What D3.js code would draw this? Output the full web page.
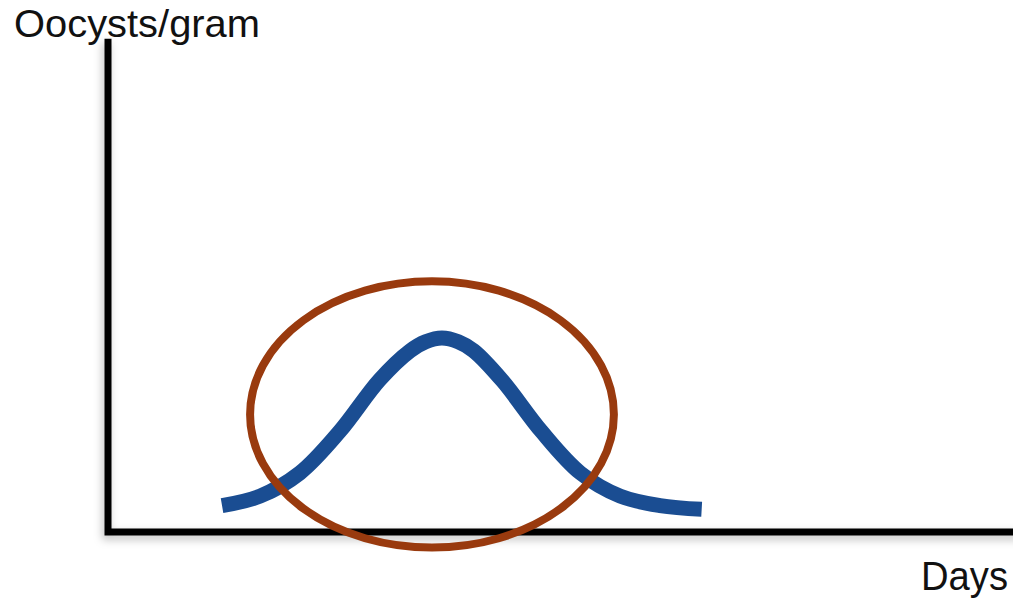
<!DOCTYPE html>
<html>
<head>
<meta charset="utf-8">
<script src="https://cdn.jsdelivr.net/npm/d3@7"></script>
<style>
  body { margin: 0; background: #fff; }
  svg { display: block; }
  .label { font-family: "Liberation Sans", Arial, sans-serif; fill: #111; }
</style>
</head>
<body>
<svg id="chart"></svg>
<script>
  // curve (arbitrary units, 0..100 on both axes)
  const days = [12.6, 16.8, 21.2, 25.6, 30.0, 33.4, 35.1, 36.9, 38.7, 40.4, 43.6, 47.9, 52.2, 56.6, 61.0, 65.6];
  const oocysts = [5.6, 7.6, 12.5, 21.3, 32.2, 38.4, 40.3, 41.1, 40.3, 38.4, 32.0, 21.3, 12.5, 7.6, 5.6, 4.8];
  // highlight ellipse: centre and radii in data units
  const ringCentre = [35.8, 24.9];
  const ringRadii = [20.1, 28.2];

  const width = 1013;
  const height = 598;

  const svg = d3.select('#chart')
    .attr('width', width)
    .attr('height', height);

  const defs = svg.append('defs');
  defs.append('filter')
    .attr('id', 'shadow')
    .attr('x', '-10%').attr('y', '-10%')
    .attr('width', '120%').attr('height', '120%')
    .append('feDropShadow')
    .attr('dx', -2).attr('dy', 4)
    .attr('stdDeviation', 4)
    .attr('flood-color', '#000')
    .attr('flood-opacity', 0.25);

  const x = d3.scaleLinear().domain([0, 100]).range([108, 1013]);
  const y = d3.scaleLinear().domain([0, 100]).range([532, 60]);

  // axes
  const axes = svg.append('g').attr('filter', 'url(#shadow)');
  axes.append('path')
    .attr('d', `M${x(0)},${y(104.5)}V${y(0)}H${x(100) + 10}`)
    .attr('fill', 'none')
    .attr('stroke', '#000')
    .attr('stroke-width', 7);

  const line = d3.line()
    .x((d, i) => x(days[i]))
    .y((d) => y(d))
    .curve(d3.curveCatmullRom);

  svg.append('path')
    .attr('d', line(oocysts))
    .attr('fill', 'none')
    .attr('stroke', '#1a4d92')
    .attr('stroke-width', 15);

  svg.append('ellipse')
    .attr('cx', x(ringCentre[0]))
    .attr('cy', y(ringCentre[1]))
    .attr('rx', x(ringRadii[0]) - x(0))
    .attr('ry', y(0) - y(ringRadii[1]))
    .attr('fill', 'none')
    .attr('stroke', '#993a0e')
    .attr('stroke-width', 8);

  svg.append('text')
    .classed('label', true)
    .attr('x', 14)
    .attr('y', 37)
    .attr('font-size', 39)
    .attr('textLength', 246)
    .attr('lengthAdjust', 'spacingAndGlyphs')
    .text('Oocysts/gram');

  svg.append('text')
    .classed('label', true)
    .attr('x', 921)
    .attr('y', 590)
    .attr('font-size', 40)
    .attr('textLength', 87)
    .attr('lengthAdjust', 'spacingAndGlyphs')
    .text('Days');
</script>
</body>
</html>
